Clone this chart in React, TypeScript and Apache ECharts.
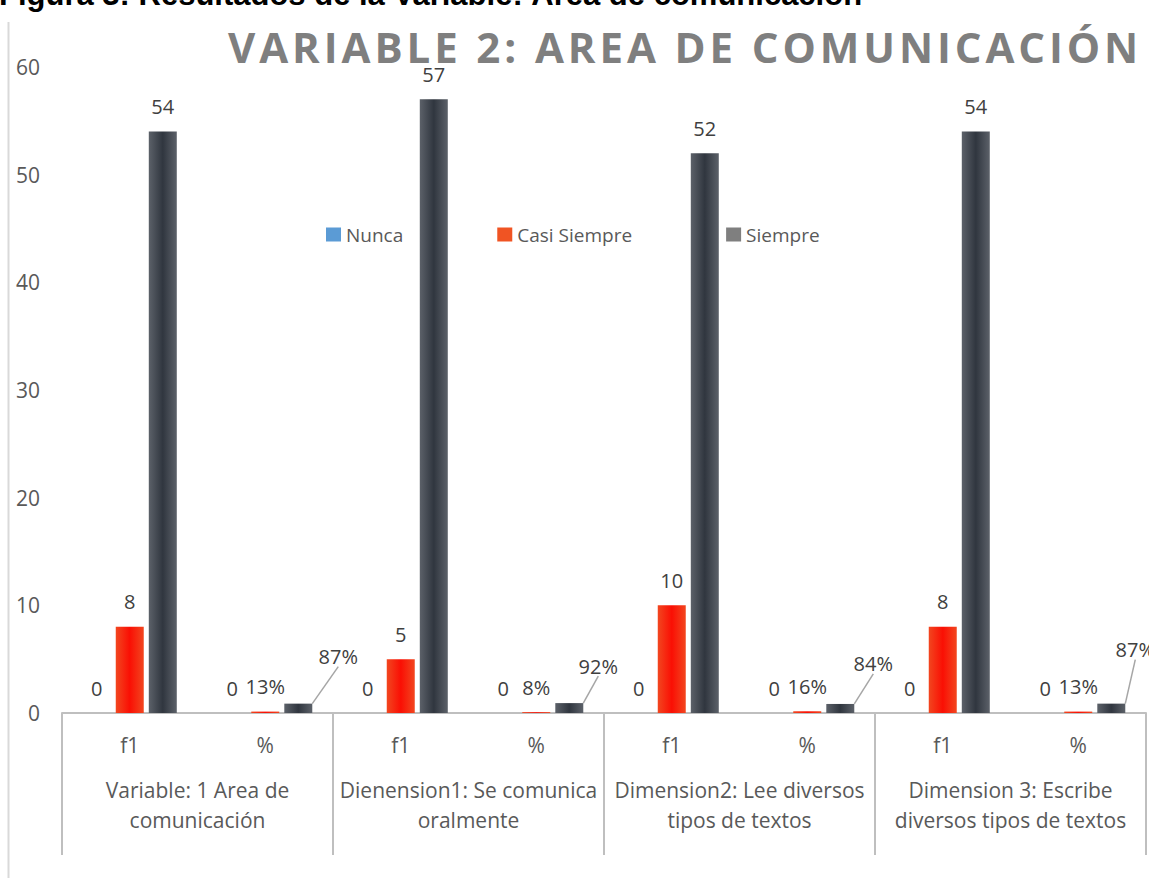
import React, { useEffect, useRef } from "react";
import * as echarts from "echarts";

const subCategories = ["f1", "%", "f1", "%", "f1", "%", "f1", "%"];
const groupCategories = [
  "Variable: 1 Area de\ncomunicación",
  "Dienension1: Se comunica\noralmente",
  "Dimension2: Lee diversos\ntipos de textos",
  "Dimension 3: Escribe\ndiversos tipos de textos",
];
const seriesNames = ["Nunca", "Casi Siempre", "Siempre"];
const nuncaValues = [0, 0, 0, 0, 0, 0, 0, 0];
const casiSiempreValues = [8, 0.13, 5, 0.08, 10, 0.16, 8, 0.13];
const siempreValues = [54, 0.87, 57, 0.92, 52, 0.84, 54, 0.87];
const yTicks = { min: 0, max: 60, interval: 10 };

const titleText = "VARIABLE 2: AREA DE COMUNICACIÓN";
const headerText = "Figura 3: Resultados de la Variable: Área de comunicación";

const FONT = "'Open Sans', 'Noto Sans', sans-serif";

function fmt(v: number, idx: number) {
  if (idx % 2 === 1) {
    if (v === 0) return "0";
    return Math.round(v * 100) + "%";
  }
  return String(v);
}

export default function App() {
  const ref = useRef<HTMLDivElement>(null);
  useEffect(() => {
    if (!ref.current) return;
    const chart = echarts.init(ref.current, null, { renderer: "svg" });

    const redGrad = new echarts.graphic.LinearGradient(0, 0, 1, 0, [
      { offset: 0, color: "#f2461f" },
      { offset: 0.5, color: "#fa0f04" },
      { offset: 1, color: "#f2461f" },
    ]);
    const darkGrad = new echarts.graphic.LinearGradient(0, 0, 1, 0, [
      { offset: 0, color: "#5c6169" },
      { offset: 0.5, color: "#30363f" },
      { offset: 1, color: "#5c6169" },
    ]);

    const pctShift = [
      [40, -22],
      [29, -12],
      [33, -15],
      [24, -29],
    ];

    const labelBase = {
      show: true,
      position: "top" as const,
      distance: 15,
      fontSize: 20,
      fontFamily: FONT,
      color: "#404040",
    };

    const option: any = {
      animation: false,
      backgroundColor: "#ffffff",
      title: {
        text: titleText,
        left: 228,
        top: 25,
        padding: 0,
        textStyle: {
          fontFamily: FONT,
          fontWeight: "bold",
          fontSize: 42,
          color: "#7f7f7f",
        },
      },
      graphic: [
        {
          type: "text",
          left: -1,
          top: -21,
          style: {
            text: headerText,
            font: "bold 31px 'Liberation Sans', Arial, sans-serif",
            fill: "#000000",
          },
        },
        {
          type: "line",
          shape: { x1: 8.5, y1: 22, x2: 8.5, y2: 878 },
          style: { stroke: "#d9d9d9", lineWidth: 2 },
        },
      ],
      legend: {
        left: 326,
        top: 225,
        padding: 0,
        itemWidth: 15,
        itemHeight: 14,
        itemGap: 94,
        icon: "rect",
        textStyle: { fontFamily: FONT, fontSize: 19, color: "#595959" },
        data: [
          { name: seriesNames[0], itemStyle: { color: "#5b9bd5" } },
          { name: seriesNames[1], itemStyle: { color: "#f05423" } },
          { name: seriesNames[2], itemStyle: { color: "#7f7f7f" } },
        ],
      },
      grid: { left: 62, right: 3, top: 67, bottom: 165 },
      xAxis: [
        {
          type: "category",
          data: subCategories,
          position: "bottom",
          axisLine: { show: true, lineStyle: { color: "#bfbfbf", width: 2 } },
          axisTick: { show: false },
          axisLabel: {
            margin: 21,
            fontSize: 21,
            fontFamily: FONT,
            color: "#595959",
            interval: 0,
          },
        },
        {
          type: "category",
          data: groupCategories,
          position: "bottom",
          axisLine: { show: false },
          axisTick: {
            show: true,
            length: 142,
            interval: 0,
            lineStyle: { color: "#bfbfbf", width: 2 },
          },
          axisLabel: {
            margin: 62,
            fontSize: 21,
            lineHeight: 30,
            fontFamily: FONT,
            color: "#595959",
            interval: 0,
          },
        },
      ],
      yAxis: {
        type: "value",
        min: yTicks.min,
        max: yTicks.max,
        interval: yTicks.interval,
        axisLine: { show: false },
        axisTick: { show: false },
        splitLine: { show: false },
        axisLabel: {
          margin: 22,
          fontSize: 21,
          fontFamily: FONT,
          color: "#595959",
        },
      },
      series: [
        {
          name: seriesNames[0],
          type: "bar",
          xAxisIndex: 0,
          data: nuncaValues,
          barWidth: 28,
          barGap: "18%",
          itemStyle: { color: "#5b9bd5" },
          label: { ...labelBase, formatter: (p: any) => fmt(p.value, p.dataIndex) },
        },
        {
          name: seriesNames[1],
          type: "bar",
          xAxisIndex: 0,
          data: casiSiempreValues,
          barWidth: 28,
          barGap: "18%",
          itemStyle: { color: redGrad },
          label: { ...labelBase, formatter: (p: any) => fmt(p.value, p.dataIndex) },
        },
        {
          name: seriesNames[2],
          type: "bar",
          xAxisIndex: 0,
          data: siempreValues.map((v, i) =>
            i % 2 === 1
              ? { value: v, labelLine: { show: true } }
              : { value: v, labelLine: { show: false } }
          ),
          barWidth: 28,
          barGap: "18%",
          itemStyle: { color: darkGrad },
          label: { ...labelBase, formatter: (p: any) => fmt(p.value, p.dataIndex) },
          labelLine: { show: true, lineStyle: { color: "#a6a6a6", width: 1.5 } },
          labelLayout: (p: any) => {
            if (p.dataIndex % 2 === 1) {
              const s = pctShift[(p.dataIndex - 1) / 2];
              return { dx: s[0], dy: s[1] };
            }
            return {};
          },
        },
      ],
    };

    chart.setOption(option);

    // widen the title's letter spacing, as in the reference
    const texts = ref.current.querySelectorAll("text");
    texts.forEach((t) => {
      if (t.textContent === titleText) {
        t.setAttribute("letter-spacing", "3.9px");
      }
    });

    return () => chart.dispose();
  }, []);

  return (
    <div
      ref={ref}
      style={{ position: "absolute", left: 0, top: 0, width: 1149, height: 878 }}
    />
  );
}
